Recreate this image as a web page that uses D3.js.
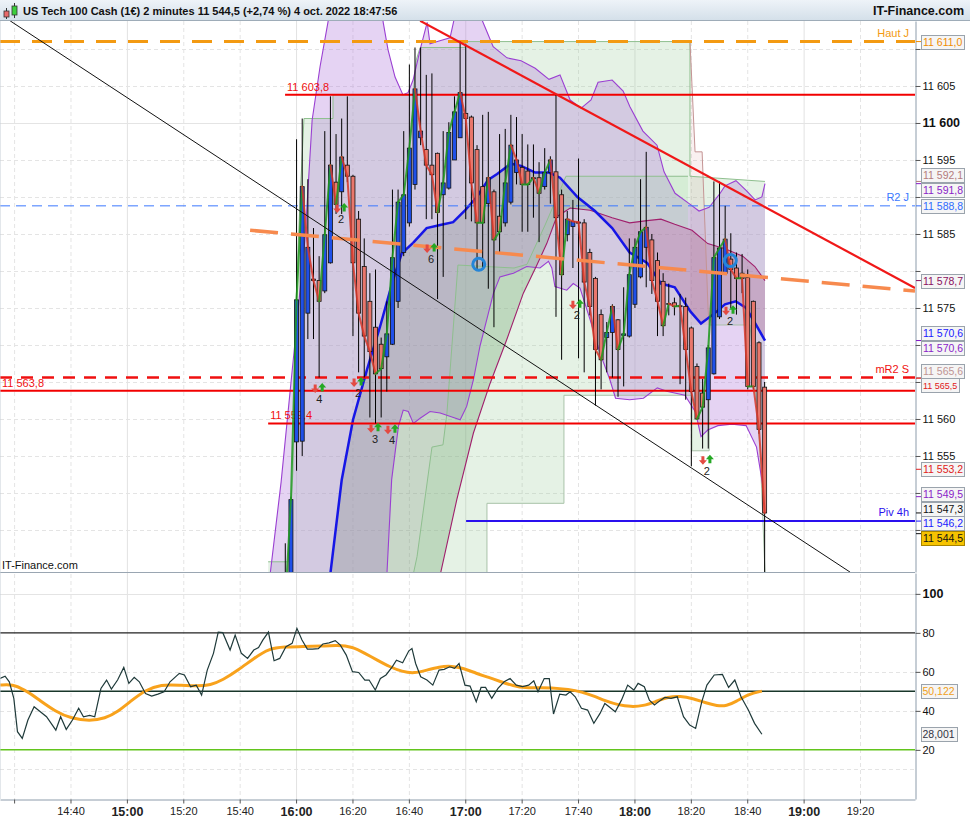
<!DOCTYPE html>
<html>
<head>
<meta charset="utf-8">
<script src="https://cdn.jsdelivr.net/npm/d3@7"></script>
<style>
html, body { margin: 0; padding: 0; background: #fff; }
svg { display: block; font-family: "Liberation Sans", Arial, sans-serif; }
</style>
</head>
<body>
<svg id="chart" width="970" height="820"></svg>
<script>
// ---------- data (times are minutes after 16:00 unless given as clock text) ----------
const candleTimes = ['15:56','15:58','16:00','16:02','16:04','16:06','16:08','16:10','16:12','16:14','16:16','16:18','16:20','16:22','16:24','16:26','16:28','16:30','16:32','16:34','16:36','16:38','16:40','16:42','16:44','16:46','16:48','16:50','16:52','16:54','16:56','16:58','17:00','17:02','17:04','17:06','17:08','17:10','17:12','17:14','17:16','17:18','17:20','17:22','17:24','17:26','17:28','17:30','17:32','17:34','17:36','17:38','17:40','17:42','17:44','17:46','17:48','17:50','17:52','17:54','17:56','17:58','18:00','18:02','18:04','18:06','18:08','18:10','18:12','18:14','18:16','18:18','18:20','18:22','18:24','18:26','18:28','18:30','18:32','18:34','18:36','18:38','18:40','18:42','18:44','18:46'];
const opens = [11525,11535,11556.9,11557,11574.3,11578.9,11578.7,11577.3,11581.1,11592,11590.7,11594.3,11592.8,11587,11580.6,11575.9,11572.4,11570.1,11568.4,11570.1,11575.9,11582.5,11586.5,11591.7,11598,11596.4,11594.3,11595.9,11590.3,11591.2,11595,11598,11601.3,11600.8,11596.4,11591.4,11589.1,11590.7,11587.4,11586.5,11589.3,11593.3,11594,11593.5,11592.6,11592.6,11591.4,11593.3,11593.4,11590.3,11584.9,11586,11586.5,11586.5,11582.5,11579,11574.1,11571,11571.7,11573.4,11571.3,11571.2,11575.5,11579.2,11583.2,11584.2,11581.4,11578.6,11575.5,11575.7,11575.2,11575.2,11572.3,11567.1,11563.5,11562.6,11566.1,11573.8,11579.7,11581.6,11580.4,11579.7,11579.1,11575.9,11570.3,11564.3];
const highs = [11543.2,11549.5,11597.8,11600.6,11592.4,11585.8,11582,11598.9,11603.6,11598.5,11600.6,11603.6,11593,11588.1,11584.4,11579.7,11580.2,11571,11575.9,11591,11591,11598.9,11607.9,11610.2,11610.2,11606.5,11606.7,11596,11598.9,11600.1,11603.6,11611,11610.7,11601,11597,11601.1,11601.5,11591,11598.5,11599.2,11601.1,11600.8,11598.5,11597.1,11597.1,11594.7,11596.6,11595.5,11603.9,11591,11588.1,11589.6,11595.2,11587,11583,11579.2,11574.8,11573.1,11575.5,11573.5,11577.8,11584.4,11584.4,11592.4,11596.1,11585,11582.5,11579.7,11578.3,11576.4,11576.9,11576.4,11572.5,11567.5,11565.4,11570,11592.1,11592.1,11588.8,11585.1,11582.5,11582.3,11580.2,11576,11570.5,11565];
const lows = [11515,11530,11553,11555,11570.8,11570.8,11565.6,11577,11581,11587.7,11587.7,11592,11571.2,11566.3,11565.6,11560.2,11559.4,11560.2,11563.7,11570,11575,11582,11586,11591,11597,11587,11587,11576.2,11579.2,11591,11595,11598,11587,11586.7,11580.2,11580.2,11577.6,11572.4,11582.3,11586,11589,11591.7,11585.3,11585.3,11587.2,11583.9,11591,11589.1,11573.8,11568,11584,11580.4,11568.2,11566.3,11574,11561.8,11564,11566.3,11565.6,11563,11564.4,11571,11575,11579,11577.8,11576.9,11571.2,11571.2,11574,11574,11564.7,11562.6,11553.6,11560,11556,11556,11566,11573.5,11579.5,11575,11574.1,11577,11564,11564,11558,11538];
const closes = [11535,11549.1,11576.1,11591.4,11583.2,11578.7,11575.9,11584.9,11594.3,11589,11595.4,11592.8,11581.1,11574.3,11571.2,11569.1,11566.1,11566.8,11571.5,11581.8,11589.3,11590.3,11596.6,11604.6,11598.9,11594.3,11593,11587.9,11591.9,11598.7,11601.5,11604.1,11600.6,11591.9,11586.5,11586.5,11592.6,11584.2,11585.3,11591.9,11597,11595,11591.7,11591.7,11592.6,11590.5,11593.3,11595,11587.2,11579.5,11587,11586.7,11586.6,11578.5,11575.2,11569.4,11568,11571.7,11575.2,11569.4,11571.5,11579.5,11583.2,11585.3,11585.9,11578.7,11575.9,11572.6,11575.6,11575.2,11575.3,11569.4,11563.7,11560,11561.6,11569.6,11581.8,11583.1,11584.3,11580.2,11579,11579,11564.4,11564.4,11558.6,11547.3];

const bbUpper = [[-9.2,11539],[-5.3,11551.5],[-0.4,11570.3],[3.2,11584.5],[5.7,11600.4],[8.5,11607.6],[11.3,11613.6],[13.8,11619],[29,11619],[30.9,11613.6],[32.6,11609.9],[35.1,11606.2],[37.9,11603.8],[39.7,11604.1],[41.5,11605.8],[44,11609.9],[46.5,11613.6],[47.5,11610.7],[51,11611.1],[54.6,11611.5],[56.4,11614.6],[61.7,11618],[65.2,11614.6],[67.4,11612.6],[69.9,11610.3],[74.8,11608.8],[79.8,11608.4],[84.8,11607.4],[89.7,11605.9],[93.6,11606.5],[97.2,11603.1],[101.1,11602],[104.6,11603.1],[107.1,11605.5],[112.1,11605.8],[116,11604.3],[118.4,11602.2],[123,11598.9],[128,11597],[130.5,11593.4],[134.4,11590.5],[139.4,11589.1],[142.9,11588.1],[146.5,11588.6],[150.4,11590.5],[152.1,11591.5],[156,11592.2],[159.6,11590.9],[162.8,11589.6],[165.2,11590],[166.3,11591.8]];
const bbLower = [[32.2,11538.9],[33.9,11551.8],[36.3,11559],[38,11561.2],[39.8,11561],[41.6,11559.4],[44,11560.1],[47.5,11561],[51.1,11560.8],[55.8,11560.2],[58.2,11559.9],[60.5,11561.7],[62.9,11565.3],[65.2,11569.8],[67.6,11573.4],[70,11577],[72.3,11579.2],[77.1,11579.7],[81.8,11580.6],[86.5,11580.4],[89.5,11581.3],[90.7,11580.4],[91.8,11577.9],[96,11577.4],[98.3,11578.3],[100.7,11577.7],[104.3,11573.4],[107.8,11568.9],[111.3,11565.3],[113.3,11562.8],[118.3,11562.6],[123.2,11562.8],[128.1,11564.2],[131.8,11563.7],[137.9,11563.2],[141.7,11560.9],[143.6,11557.6],[146,11558.5],[149.6,11559.1],[154.6,11559.3],[159.6,11559.1],[163.3,11556.2],[165.7,11550.6],[166.3,11549.5]];
const blueMA = [[10.8,11535],[12.1,11538.9],[16.2,11551.8],[20.2,11559.9],[25.1,11566.6],[29.8,11572.5],[34.4,11578.8],[37.5,11582.4],[41.5,11583.8],[46.3,11585.8],[51.1,11586.2],[55.7,11586.6],[59.9,11588.2],[64.1,11590],[68.1,11592.3],[71.3,11593.1],[76.2,11594.5],[79.8,11594.2],[84.8,11593.3],[89.7,11593.3],[93.6,11592.6],[99.8,11590],[106,11588.1],[112.1,11585.8],[118.3,11582.5],[124.5,11581.1],[129.4,11578.3],[134.3,11577.8],[139.9,11574.5],[143.6,11572.9],[148.5,11574.3],[152.1,11575.5],[155.9,11575.9],[159.6,11575],[163.3,11572.6],[166.3,11570.6]];
const maroonMA = [[49.5,11535],[51.1,11538.9],[57,11549.1],[62.9,11558.1],[68.8,11564.8],[74.7,11570.7],[80.6,11577],[85.4,11580.8],[88.9,11583.7],[92.4,11587.3],[97.2,11588.5],[104.3,11588.2],[112.1,11587.2],[118.3,11586.5],[124.5,11586.8],[129.4,11587],[134.3,11586.3],[140.4,11585.5],[146,11583.7],[152.1,11583],[158.4,11582],[162.7,11580.6],[166.3,11578.7]];
const channelTop = [[-9.9,11540.7],[-2.8,11540.7],[-1.1,11553.1],[0,11576.1],[1.4,11589.6],[2.8,11600.6],[13.1,11600.6],[13.1,11603.8],[41.5,11603.8],[42.6,11608.5],[44,11610.2],[59.9,11610.2],[59.9,11611],[139.7,11611],[139.7,11592.8],[166.3,11592.1]];
const channelBottom = [[-9.9,11525],[67.7,11525],[67.7,11548.6],[95,11548.6],[95,11563.2],[140.4,11563.2],[140.4,11555.7],[146.5,11555.7],[146.5,11572.7],[161,11572.7],[164.5,11556.2],[166.3,11539.3]];
const cloudTop = [[41.5,11538.9],[42.9,11541.4],[48.2,11556.2],[52.1,11556.5],[53.5,11560.8],[57.4,11580.8],[77.3,11580.4],[81.9,11580.9],[88.3,11586.2],[93.6,11590.9],[95.7,11592.8],[139,11592.8]];
const rosyLine = [[139.7,11611],[141.5,11596.1],[144,11596.1],[146.1,11575],[146.5,11572.7]];

const levelNames = ['Haut J', '', 'R2 J', 'mR2 S', '', '', 'Piv 4h'];
const levelValues = [11611.0, 11603.8, 11588.8, 11565.6, 11563.8, 11559.4, 11546.2];
const levelStarts = [-105, -3.9, -105, -105, -105, -9.9, 60.3];
const levelPriceTags = [false, true, false, false, true, true, false];

const trendBlack = [[-101.4, 11613.8], [196.5, 11539.3]];
const trendRed = [[44, 11613.8], [219.5, 11577.7]];
const trendOrange = [[-16.3, 11585.5], [219.5, 11577.3]];

const signalTimes = [8.2, 16, 22, 28, 34, 47.9, 99.6, 145.7, 153.9];
const signalPrices = [11564.2, 11588.5, 11565, 11558.8, 11558.6, 11583.1, 11575.5, 11554.5, 11574.7];
const signalCounts = [4, 2, 2, 3, 4, 6, 2, 2, 2];
const circleTimes = [64.8, 154];
const circlePrices = [11580.9, 11581.4];

const priceTicks = [11545, 11550, 11555, 11560, 11565, 11570, 11575, 11580, 11585, 11590, 11595, 11600, 11605, 11610];
const timeTicks = ['14:20','14:40','15:00','15:20','15:40','16:00','16:20','16:40','17:00','17:20','17:40','18:00','18:20','18:40','19:00','19:20'];
const boxValues = [11611.0, 11592.1, 11591.8, 11588.8, 11578.7, 11570.6, 11570.6, 11565.6, 11565.5, 11553.2, 11549.5, 11547.3, 11546.2, 11544.5];

const rsiPoints = [[-105,56.6],[-103.2,57.8],[-101.7,54.9],[-100.1,46.4],[-98.8,29.3],[-97.1,25.9],[-95.1,35.3],[-92.9,42.1],[-90.7,39.5],[-88.5,37],[-85.2,30.1],[-83.5,37],[-81.5,30.5],[-79.3,35.3],[-77.1,41.3],[-75.4,37],[-73.2,37.7],[-71.4,37],[-69.2,51.5],[-67.2,55.8],[-65.5,51.2],[-63.3,55.8],[-61.1,62.3],[-59.3,54.1],[-57.4,57.2],[-55.6,54.9],[-53.4,48.9],[-51.2,47.6],[-49,48.6],[-46.8,49.8],[-44.7,54.9],[-41.4,59.2],[-39.6,58.4],[-37.4,52.4],[-35.4,53.2],[-33.5,48.1],[-31.5,60.9],[-29.3,69.5],[-27.6,80.4],[-26,80.1],[-23.4,71.2],[-21.6,78.9],[-19.4,69.5],[-17.2,66.9],[-15,71.2],[-13.3,72.5],[-11.8,76.3],[-9.8,80.4],[-7.8,65.7],[-5.8,66.9],[-3.6,72.9],[-1.4,74.6],[0.3,82.3],[2.1,76.3],[4,71.7],[5.8,71.7],[7.9,71.9],[9.5,74.3],[11.7,74.9],[13.9,76],[15.7,73.7],[17.8,68.6],[20,60.1],[22.2,59.7],[24.4,55.8],[25.9,55.8],[28.1,50.7],[29.9,56.6],[31.9,58.4],[34.1,62.6],[35.6,66],[37.8,64.7],[40,70.8],[41.1,72],[42.4,64.3],[44.2,57.5],[46.4,55.8],[48.5,53.2],[50.7,60.9],[52.5,61.3],[54.5,62.6],[56.2,61.8],[57.8,64.3],[59.9,53.2],[61.7,52.7],[63.9,44.7],[65.6,52],[67.2,52],[69.4,46.4],[71.6,51.5],[73.8,54.9],[75.9,56.6],[78.1,53.2],[80.3,52.4],[82.5,53.2],[84.3,55.4],[85.8,49.8],[88,56.6],[89.8,56.5],[91.3,38.4],[93.5,48.6],[95.7,48.1],[97.2,49.8],[99,47.2],[101.2,41.3],[103.4,40.4],[105.6,33.6],[107.8,38.7],[109.5,43.8],[111,42.1],[113.2,39.5],[115.4,45.5],[117.6,53.2],[119.8,50.7],[121.3,54.1],[123.5,52.4],[125.3,45.5],[127.1,43],[129.3,45.5],[130.8,46.9],[133,46.4],[135.2,47.2],[137.4,37],[139.6,32.7],[141.7,31],[143.9,44.7],[145.7,53.2],[148.3,58.4],[151.2,58.7],[153.4,52],[155.6,55.8],[157.8,47.2],[160.4,40.4],[162.6,33.6],[165.2,28.001]];
const rsiAverage = [[-105,53.2],[-100.6,53.7],[-96.2,50.7],[-91.8,46.4],[-85.2,39.5],[-79.7,36.1],[-73.2,34.8],[-67.7,36.1],[-63.3,39.5],[-58.9,44.7],[-53.4,50.7],[-47.9,53.6],[-41.4,53.2],[-34.8,52.7],[-30.4,53.2],[-26,55.8],[-20.5,60.9],[-15,66.9],[-9.6,72],[-4.1,72.9],[2.5,72.9],[9.1,73.2],[14.6,73.7],[20,72.9],[24.4,69.5],[28.8,66],[33.2,62.6],[37.6,60.1],[41.9,59.2],[46.4,60.9],[50.7,62.6],[55.1,63.1],[59.5,61.8],[63.9,59.2],[68.3,57.2],[72.7,54.9],[77,52.9],[81.4,51.7],[85.8,51.9],[90.2,51.9],[96.8,51],[101.2,49.8],[105.6,47.6],[109.9,45],[114.3,43],[118.7,42.1],[123.1,42.5],[127.5,44.7],[131.9,47.2],[136.3,47.6],[140.7,46.4],[145,44.2],[149.4,42.5],[152.7,42.5],[156,44.7],[160.4,48.6],[165.2,50.122]];
const rsiLevels = [80, 50, 20];
const rsiTicks = [20, 40, 60, 80, 100];
const rsiGrid = [100, 60, 40, 10];

// ---------- setup ----------
const locale = d3.formatLocale({decimal: ',', thousands: ' ', grouping: [3], currency: ['', '€']});
const fmt0 = locale.format(',.0f');
const fmt1 = locale.format(',.1f');
const fmt3 = locale.format('.3f');

const base = new Date(2022, 9, 4, 16, 0);
const t = m => new Date(+base + m * 60000);
const hm = s => { const [h, mm] = s.split(':').map(Number); return new Date(2022, 9, 4, h, mm); };

const plotRight = 915;
const x = d3.scaleTime().domain([t(-105), t(219.5)]).range([0, plotRight]);
const yP = d3.scaleLinear().domain([11539.32, 11613.78]).range([572, 21]);
const yR = d3.scaleLinear().domain([-5.2, 110.7]).range([799, 573]);
const px = p => x(t(p[0]));

const svg = d3.select('#chart');
const defs = svg.append('defs');
const grad = defs.append('linearGradient').attr('id', 'hdr').attr('x1', 0).attr('y1', 0).attr('x2', 0).attr('y2', 1);
grad.append('stop').attr('offset', '0%').attr('stop-color', '#eef3f8');
grad.append('stop').attr('offset', '100%').attr('stop-color', '#d3dfe9');
defs.append('clipPath').attr('id', 'clipMain').append('rect').attr('x', 0).attr('y', 21).attr('width', plotRight).attr('height', 551);
defs.append('clipPath').attr('id', 'clipLow').append('rect').attr('x', 0).attr('y', 573).attr('width', plotRight).attr('height', 226);

function interp(pts, m) {
    if (m <= pts[0][0]) return pts[0][1];
    for (let i = 1; i < pts.length; i++) {
        if (m <= pts[i][0]) {
            const [m0, v0] = pts[i - 1], [m1, v1] = pts[i];
            return m1 === m0 ? v1 : v0 + (v1 - v0) * (m - m0) / (m1 - m0);
        }
    }
    return pts[pts.length - 1][1];
}
function band(top, bottom, m0, m1) {
    const out = [];
    for (let m = m0; m <= m1 + 1e-9; m += 0.25) out.push({m, hi: interp(top, m), lo: interp(bottom, m)});
    return out;
}
const area = d3.area().x(d => x(t(d.m))).y0(d => yP(d.lo)).y1(d => yP(d.hi));
const lineP = d3.line().x(px).y(p => yP(p[1]));

// ---------- header ----------
svg.append('rect').attr('width', 970).attr('height', 21).attr('fill', 'url(#hdr)');
svg.append('line').attr('x1', 0).attr('x2', 970).attr('y1', 20.5).attr('y2', 20.5).attr('stroke', '#9eacb8');
const icon = svg.append('g');
icon.append('line').attr('x1', 6.5).attr('x2', 6.5).attr('y1', 8).attr('y2', 19).attr('stroke', '#333');
icon.append('rect').attr('x', 4).attr('y', 11).attr('width', 5).attr('height', 6).attr('fill', '#e86a6a').attr('stroke', '#333').attr('stroke-width', 0.8);
icon.append('line').attr('x1', 14.5).attr('x2', 14.5).attr('y1', 3).attr('y2', 18).attr('stroke', '#333');
icon.append('rect').attr('x', 12).attr('y', 6).attr('width', 5).attr('height', 9).attr('fill', '#3ccf3c').attr('stroke', '#333').attr('stroke-width', 0.8);
svg.append('text').attr('x', 23).attr('y', 15).attr('font-size', 11).attr('font-weight', 'bold').attr('fill', '#111')
    .text('US Tech 100 Cash (1€) 2 minutes 11 544,5 (+2,74 %) 4 oct. 2022 18:47:56');
svg.append('text').attr('x', 964).attr('y', 15).attr('text-anchor', 'end').attr('font-size', 12.5).attr('font-weight', 'bold').attr('fill', '#111')
    .text('IT-Finance.com');

// ---------- grids ----------
const grid = svg.append('g');
timeTicks.forEach(s => {
    const d = hm(s);
    grid.append('line').attr('x1', x(d) + 0.5).attr('x2', x(d) + 0.5).attr('y1', 21).attr('y2', 799)
        .attr('stroke', d.getMinutes() === 0 ? '#e2e2e2' : '#e4e4e4')
        .attr('stroke-dasharray', d.getMinutes() === 0 ? null : '4,3');
});
priceTicks.forEach(v => {
    grid.append('line').attr('x1', 0).attr('x2', plotRight).attr('y1', Math.round(yP(v)) + 0.5).attr('y2', Math.round(yP(v)) + 0.5)
        .attr('stroke', '#e4e4e4').attr('stroke-dasharray', v === 11600 ? null : '4,3');
});
rsiGrid.forEach(v => {
    grid.append('line').attr('x1', 0).attr('x2', plotRight).attr('y1', Math.round(yR(v)) + 0.5).attr('y2', Math.round(yR(v)) + 0.5)
        .attr('stroke', '#e4e4e4').attr('stroke-dasharray', v === 100 ? null : '4,3');
});

// ---------- main panel ----------
const main = svg.append('g').attr('clip-path', 'url(#clipMain)');

// channel fill
main.append('path').attr('d', lineP(channelTop.concat(channelBottom.slice().reverse())) + 'Z')
    .attr('fill', 'rgba(150,205,150,0.25)');
main.append('path').attr('d', lineP(rosyLine.concat([[146.5, 11572.7], [139.7, 11572.7]])) + 'Z')
    .attr('fill', 'rgba(205,140,140,0.13)');

// bollinger fill
const bbLowerExt = [[-9.2, 11525]].concat(bbLower);
main.append('path').attr('d', area(band(bbUpper, bbLowerExt, -9.2, 166.3))).attr('fill', 'rgba(175,120,220,0.33)');

// fill between blue and maroon averages
const maroonExt = [[10.8, 11520]].concat(maroonMA);
const ov = band(blueMA, maroonExt, 10.8, 166.3);
main.append('path').attr('d', area.defined(d => d.hi >= d.lo)(ov)).attr('fill', 'rgba(100,120,100,0.22)');
main.append('path').attr('d', area.defined(d => d.hi <= d.lo)(ov)).attr('fill', 'rgba(150,40,90,0.2)');
area.defined(() => true);

// cloud between step line and maroon average
const cl = band(cloudTop, maroonExt, 41.5, 139);
main.append('path').attr('d', area.defined(d => d.hi >= d.lo)(cl)).attr('fill', 'rgba(150,220,150,0.2)');
area.defined(() => true);

// indicator lines
main.append('path').attr('d', lineP(channelTop)).attr('fill', 'none').attr('stroke', '#8fbf8f').attr('stroke-width', 1);
main.append('path').attr('d', lineP(channelBottom)).attr('fill', 'none').attr('stroke', '#a9c2a9').attr('stroke-width', 1);
main.append('path').attr('d', lineP(cloudTop)).attr('fill', 'none').attr('stroke', '#8fbf8f').attr('stroke-width', 1);
main.append('path').attr('d', lineP(rosyLine)).attr('fill', 'none').attr('stroke', '#c49494').attr('stroke-width', 1);
main.append('path').attr('d', lineP(bbUpper)).attr('fill', 'none').attr('stroke', '#9a3fd2').attr('stroke-width', 1.1);
main.append('path').attr('d', lineP(bbLower)).attr('fill', 'none').attr('stroke', '#9a3fd2').attr('stroke-width', 1.1);
main.append('path').attr('d', lineP(maroonMA)).attr('fill', 'none').attr('stroke', '#a01f6c').attr('stroke-width', 1.1);
main.append('path').attr('d', lineP(blueMA)).attr('fill', 'none').attr('stroke', '#1616e6').attr('stroke-width', 2.5);

// horizontal levels
const levelStyle = [
    {c: '#f39a12', w: 3, dash: '20,12'},
    {c: '#f20000', w: 2, dash: null},
    {c: '#3a78ff', w: 1, dash: '10,6'},
    {c: '#f01010', w: 2.5, dash: '12,9'},
    {c: '#f20000', w: 2, dash: null},
    {c: '#f20000', w: 2, dash: null},
    {c: '#2a10ee', w: 2, dash: null}
];
levelValues.forEach((v, i) => {
    const s = levelStyle[i];
    main.append('line').attr('x1', x(t(levelStarts[i]))).attr('x2', plotRight)
        .attr('y1', yP(v)).attr('y2', yP(v))
        .attr('stroke', s.c).attr('stroke-width', s.w).attr('stroke-dasharray', s.dash);
    if (levelNames[i]) {
        main.append('text').attr('x', 909).attr('y', yP(v) - 5).attr('text-anchor', 'end')
            .attr('font-size', 11).attr('fill', s.c).text(levelNames[i]);
    }
    if (levelPriceTags[i]) {
        main.append('text').attr('x', Math.max(2, x(t(levelStarts[i])) + 2)).attr('y', yP(v) - 4)
            .attr('font-size', 11).attr('fill', '#f01010').text(fmt1(v));
    }
});

// candles
const cx = candleTimes.map(s => x(hm(s)));
const candles = main.append('g');
candleTimes.forEach((s, i) => {
    candles.append('line').attr('x1', cx[i] + 0.5).attr('x2', cx[i] + 0.5)
        .attr('y1', yP(highs[i])).attr('y2', yP(lows[i])).attr('stroke', '#000').attr('stroke-width', 1);
});
candleTimes.forEach((s, i) => {
    const up = closes[i] >= opens[i];
    const top = yP(Math.max(opens[i], closes[i]));
    const h = Math.max(1, Math.abs(yP(opens[i]) - yP(closes[i])));
    candles.append('rect').attr('x', cx[i] - 1.5).attr('y', top).attr('width', 4).attr('height', h)
        .attr('fill', up ? '#1f50e8' : '#e9776c').attr('stroke', '#111').attr('stroke-width', 0.8);
});
// close line coloured by direction
for (let i = 1; i < closes.length; i++) {
    main.append('line').attr('x1', cx[i - 1] + 0.5).attr('x2', cx[i] + 0.5)
        .attr('y1', yP(closes[i - 1])).attr('y2', yP(closes[i]))
        .attr('stroke', closes[i] >= closes[i - 1] ? '#1f9a1f' : '#d8382a')
        .attr('stroke-width', 2).attr('stroke-linecap', 'round').attr('opacity', 0.85);
}

// trend lines
main.append('path').attr('d', lineP(trendOrange)).attr('stroke', '#f78a4e').attr('stroke-width', 3.5)
    .attr('stroke-dasharray', '28,13').attr('fill', 'none');
main.append('path').attr('d', lineP(trendBlack)).attr('stroke', '#111').attr('stroke-width', 1).attr('fill', 'none');
main.append('path').attr('d', lineP(trendRed)).attr('stroke', '#f01818').attr('stroke-width', 2.2).attr('fill', 'none');

// signals
const downArrow = 'M-1.5,-4.5h3v4h2.5l-4,4.5l-4,-4.5h2.5z';
const upArrow = 'M-1.5,4.5h3v-4h2.5l-4,-4.5l-4,4.5h2.5z';
signalTimes.forEach((m, i) => {
    const sx = x(t(m)), sy = yP(signalPrices[i]);
    main.append('path').attr('d', downArrow).attr('transform', `translate(${sx - 4},${sy + 1})`).attr('fill', '#e34a42');
    main.append('path').attr('d', upArrow).attr('transform', `translate(${sx + 3},${sy - 1})`).attr('fill', '#25a825');
    main.append('text').attr('x', sx).attr('y', sy + 15).attr('text-anchor', 'middle').attr('font-size', 11).attr('fill', '#222').text(signalCounts[i]);
});
circleTimes.forEach((m, i) => {
    main.append('circle').attr('cx', x(t(m))).attr('cy', yP(circlePrices[i])).attr('r', 6)
        .attr('fill', 'none').attr('stroke', '#2585d8').attr('stroke-width', 3);
});

// watermark
svg.append('rect').attr('x', 0).attr('y', 558).attr('width', 78).attr('height', 13).attr('fill', '#fff').attr('opacity', 0.85);
svg.append('text').attr('x', 2).attr('y', 569).attr('font-size', 11).attr('fill', '#111').text('IT-Finance.com');

// ---------- lower panel ----------
const low = svg.append('g').attr('clip-path', 'url(#clipLow)');
const levelColors = ['#222', '#18362a', '#62c41c'];
rsiLevels.forEach((v, i) => {
    low.append('line').attr('x1', 0).attr('x2', plotRight).attr('y1', yR(v)).attr('y2', yR(v))
        .attr('stroke', levelColors[i]).attr('stroke-width', i === 0 ? 1.2 : 1.5);
});
const lineR = d3.line().x(px).y(p => yR(p[1]));
low.append('path').attr('d', lineR.curve(d3.curveBasis)(rsiAverage)).attr('fill', 'none').attr('stroke', '#f8a21c').attr('stroke-width', 3);
low.append('path').attr('d', lineR.curve(d3.curveLinear)(rsiPoints)).attr('fill', 'none').attr('stroke', '#1f3a3a').attr('stroke-width', 1.2);

// panel borders
svg.append('line').attr('x1', 0).attr('x2', plotRight).attr('y1', 572.5).attr('y2', 572.5).attr('stroke', '#9aa6b2');
svg.append('line').attr('x1', 0).attr('x2', 0).attr('y1', 21).attr('y2', 799).attr('stroke', '#c8d0d8');

// ---------- value boxes: positions first, so covered axis labels can be hidden ----------
const boxColors = ['#f08c00', '#b47c7c', '#8a1ec8', '#2f6bff', '#8b1060', '#1a1aff', '#8a1ec8', '#bf9494', '#e02020', '#e02020', '#8a1ec8', '#111', '#1a1aff', '#111'];
const boxes = boxValues.map((v, i) => ({v, i, y: yP(v)}));
const sorted = boxes.slice().sort((a, b) => a.y - b.y);
const boxGap = 14.5;
for (let it = 0; it < 80; it++) {
    for (let k = 1; k < sorted.length; k++) {
        const gap = sorted[k].y - sorted[k - 1].y;
        if (gap < boxGap) { const s = (boxGap - gap) / 2; sorted[k - 1].y -= s; sorted[k].y += s; }
    }
}
const covered = yy => boxes.some(b => Math.abs(b.y - yy) < 11);

// ---------- axes ----------
const axisP = d3.axisRight(yP).tickValues(priceTicks).tickSize(5).tickSizeOuter(0).tickPadding(2).tickFormat(fmt0);
const gP = svg.append('g').attr('transform', `translate(${plotRight + 0.5},0)`).call(axisP);
gP.selectAll('text').attr('font-size', 11).attr('fill', '#111').attr('font-family', '"Liberation Sans", Arial, sans-serif')
    .attr('display', d => covered(yP(d)) ? 'none' : null)
    .filter(d => d === 11600).attr('font-weight', 'bold').attr('font-size', 12.5);
gP.select('.domain').attr('stroke', '#8d9cab');
gP.selectAll('.tick line').attr('stroke', '#555');

const axisL = d3.axisRight(yR).tickValues(rsiTicks).tickSize(5).tickSizeOuter(0).tickPadding(2);
const gL = svg.append('g').attr('transform', `translate(${plotRight + 0.5},0)`).call(axisL);
gL.selectAll('text').attr('font-size', 11).attr('fill', '#111').attr('font-family', '"Liberation Sans", Arial, sans-serif')
    .filter(d => d === 100).attr('font-weight', 'bold').attr('font-size', 12.5);
gL.select('.domain').attr('stroke', '#8d9cab');
gL.selectAll('.tick line').attr('stroke', '#555');

const axisT = d3.axisBottom(x).tickValues(timeTicks.map(hm)).tickSize(4).tickSizeOuter(0).tickPadding(4).tickFormat(d3.timeFormat('%H:%M'));
const gT = svg.append('g').attr('transform', 'translate(0,799.5)').call(axisT);
gT.select('.domain').attr('stroke', '#8d9cab');
gT.selectAll('.tick line').attr('stroke', '#555');
gT.selectAll('text').attr('font-size', 11).attr('fill', '#222').attr('font-family', '"Liberation Sans", Arial, sans-serif')
    .attr('opacity', d => x(d) < 30 ? 0 : 1)
    .filter(d => d.getMinutes() === 0).attr('font-weight', 'bold').attr('font-size', 12.5);

// ---------- draw value boxes ----------
const drawOrder = boxes.filter(b => b.v === 11546.2).concat(boxes.filter(b => b.v !== 11546.2 && b.v !== 11544.5), boxes.filter(b => b.v === 11544.5));
drawOrder.forEach(b => {
    const last = b.v === 11544.5;
    const small = b.v === 11565.5;
    svg.append('line').attr('x1', plotRight + 1).attr('x2', plotRight + 6).attr('y1', yP(b.v)).attr('y2', yP(b.v)).attr('stroke', boxColors[b.i]);
    svg.append('rect').attr('x', 921.5).attr('y', Math.round(b.y - 7) + 0.5).attr('width', small ? 38 : 43).attr('height', 14)
        .attr('fill', last ? '#f6c300' : '#f5f5f5').attr('stroke', last ? '#a88400' : '#9aa3ac');
    svg.append('text').attr('x', 923).attr('y', Math.round(b.y) + 4).attr('font-size', small ? 9 : 10.5)
        .attr('fill', boxColors[b.i]).text(fmt1(b.v));
});
[[50.122, '#f0a020'], [28.001, '#334']].forEach(([v, c]) => {
    svg.append('rect').attr('x', 921.5).attr('y', Math.round(yR(v) - 7) + 0.5).attr('width', 36).attr('height', 14)
        .attr('fill', '#f5f5f5').attr('stroke', '#9aa3ac');
    svg.append('text').attr('x', 922.5).attr('y', Math.round(yR(v)) + 4).attr('font-size', 10.5).attr('fill', c).text(fmt3(v));
});
</script>
</body>
</html>
